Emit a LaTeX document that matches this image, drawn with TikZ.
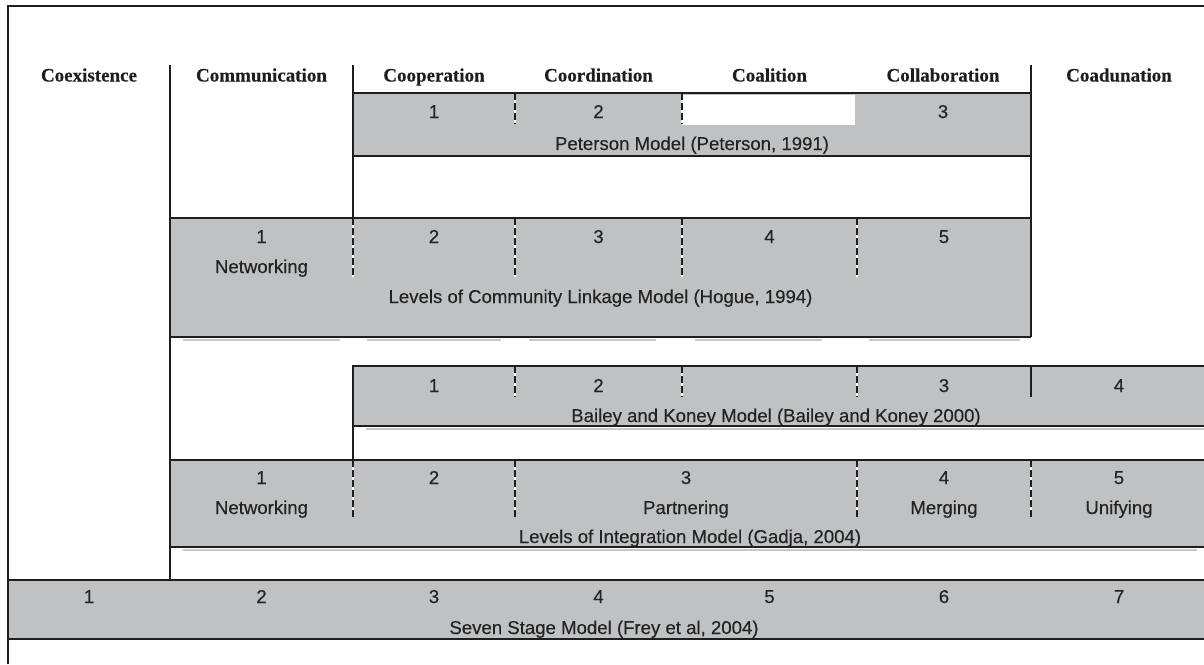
\documentclass[tikz,border=0pt]{standalone}
\usepackage{fontspec}
\setmainfont{Liberation Serif}
\setsansfont{Liberation Sans}
\newfontfamily\lblfont[FakeBold=0.35]{Liberation Sans}
\newfontfamily\hdrfont[FakeBold=0.3]{Liberation Serif Bold}
\definecolor{boxgray}{RGB}{192,193,195}
\definecolor{linec}{RGB}{30,30,30}
\definecolor{shad}{RGB}{200,200,200}
\definecolor{txt}{RGB}{35,35,35}
\tikzset{
  frameline/.style={draw=linec, line width=2pt},
  boxline/.style={draw=linec, line width=2.4pt},
  grayfill/.style={fill=boxgray, draw=none},
  whitefill/.style={fill=white, draw=none},
  shadowline/.style={draw=shad, line width=2.5pt},
  divwhite/.style={draw=white, line width=1.8pt},
  divdash/.style={draw=linec, line width=2.3pt, dash pattern=on 7pt off 3pt},
  divsolid/.style={draw=linec, line width=2.3pt},
  hdr/.style={font=\hdrfont\fontsize{19}{19}\selectfont, text=linec, anchor=base, inner sep=0pt},
  lbl/.style={font=\lblfont\fontsize{18.6}{19}\selectfont, text=txt, anchor=base, inner sep=0pt}
}
\newcommand{\dashdiv}[3]{\draw[divwhite] (#1,#2) -- (#1,#3); \draw[divdash] (#1,#2) -- (#1,#3);}
\begin{document}
\begin{tikzpicture}[x=1pt,y=-1pt]
\useasboundingbox (0,0) rectangle (1204,664);
\fill[white] (0,0) rectangle (1204,664);

% ---------- fills ----------
\path[grayfill] (353,93) rectangle (1031,156);      % Peterson
\path[whitefill] (682,95) rectangle (855,125);
\path[shadowline] (183,340) -- (340,340);
\path[shadowline] (367,340) -- (501,340);
\path[shadowline] (529,340) -- (656,340);
\path[shadowline] (695,340) -- (822,340);
\path[shadowline] (869,340) -- (1020,340);
\path[grayfill] (170,218) rectangle (1031,337);     % Hogue
\path[shadowline] (366,429) -- (1204,429);
\path[grayfill] (353,366) rectangle (1204,426);     % Bailey
\path[shadowline] (183,550) -- (1197,550);
\path[grayfill] (170,460) rectangle (1204,547);     % Gadja
\path[grayfill] (8,580) rectangle (1204,639);       % Seven stage

% ---------- dividers ----------
\dashdiv{515}{93}{124}
\dashdiv{682}{93}{124}
\dashdiv{353}{218}{277}
\dashdiv{515}{218}{277}
\dashdiv{682}{218}{277}
\dashdiv{857}{218}{277}
\dashdiv{515}{366}{397}
\dashdiv{682}{366}{397}
\dashdiv{857}{366}{397}
\draw[divsolid] (1031,366) -- (1031,397);
\dashdiv{353}{460}{517}
\dashdiv{515}{460}{517}
\dashdiv{857}{460}{517}
\dashdiv{1031}{460}{517}

% ---------- structure lines ----------
\draw[frameline] (7.5,664) -- (7.5,5.5) -- (1204,5.5);
\draw[boxline] (170,65) -- (170,580);
\draw[boxline] (353,65) -- (353,218);
\draw[boxline] (1031,65) -- (1031,337);
\draw[boxline] (353,93) -- (1031,93);
\draw[boxline] (353,156) -- (1031,156);
\draw[boxline] (170,218) -- (1031,218);
\draw[boxline] (170,337) -- (1031,337);
\draw[boxline] (353,460) -- (353,366) -- (1204,366);
\draw[boxline] (353,426) -- (1204,426);
\draw[boxline] (170,460) -- (1204,460);
\draw[boxline] (170,547) -- (1204,547);
\draw[boxline] (8,580) -- (1204,580);
\draw[boxline] (8,639) -- (1204,639);

% ---------- headers ----------
\node[hdr] (hA) at (89,81.5) {Coexistence};
\node[hdr] (hB) at (261.5,81.5) {Communication};
\node[hdr] (hC) at (434,81.5) {Cooperation};
\node[hdr] (hD) at (598.5,81.5) {Coordination};
\node[hdr] (hE) at (769.5,81.5) {Coalition};
\node[hdr] (hF) at (943,81.5) {Collaboration};
\node[hdr] (hG) at (1119,81.5) {Coadunation};

% ---------- Peterson ----------
\node[lbl] (p1) at (434,118) {1};
\node[lbl] (p2) at (598.5,118) {2};
\node[lbl] (p3) at (943,118) {3};
\node[lbl] (pm) at (692,150) {Peterson Model (Peterson, 1991)};

% ---------- Hogue ----------
\node[lbl] (h1) at (261.5,243) {1};
\node[lbl] (h1b) at (261.5,273) {Networking};
\node[lbl] (h2) at (434,243) {2};
\node[lbl] (h3) at (598.5,243) {3};
\node[lbl] (h4) at (769.5,243) {4};
\node[lbl] (h5) at (944,243) {5};
\node[lbl] (hm) at (600.5,303) {Levels of Community Linkage Model (Hogue, 1994)};

% ---------- Bailey and Koney ----------
\node[lbl] (b1) at (434,392) {1};
\node[lbl] (b2) at (598.5,392) {2};
\node[lbl] (b3) at (944,392) {3};
\node[lbl] (b4) at (1119,392) {4};
\node[lbl] (bm) at (776,422) {Bailey and Koney Model (Bailey and Koney 2000)};

% ---------- Gadja ----------
\node[lbl] (g1) at (261.5,484) {1};
\node[lbl] (g1b) at (261.5,514) {Networking};
\node[lbl] (g2) at (434,484) {2};
\node[lbl] (g3) at (686,484) {3};
\node[lbl] (g3b) at (686,514) {Partnering};
\node[lbl] (g4) at (944,484) {4};
\node[lbl] (g4b) at (944,514) {Merging};
\node[lbl] (g5) at (1119,484) {5};
\node[lbl] (g5b) at (1119,514) {Unifying};
\node[lbl] (gm) at (690,543) {Levels of Integration Model (Gadja, 2004)};

% ---------- Seven stage ----------
\node[lbl] (s1) at (89,603) {1};
\node[lbl] (s2) at (261.5,603) {2};
\node[lbl] (s3) at (434,603) {3};
\node[lbl] (s4) at (598.5,603) {4};
\node[lbl] (s5) at (769.5,603) {5};
\node[lbl] (s6) at (944,603) {6};
\node[lbl] (s7) at (1119,603) {7};
\node[lbl] (sm) at (604,634) {Seven Stage Model (Frey et al, 2004)};
\end{tikzpicture}
\end{document}
